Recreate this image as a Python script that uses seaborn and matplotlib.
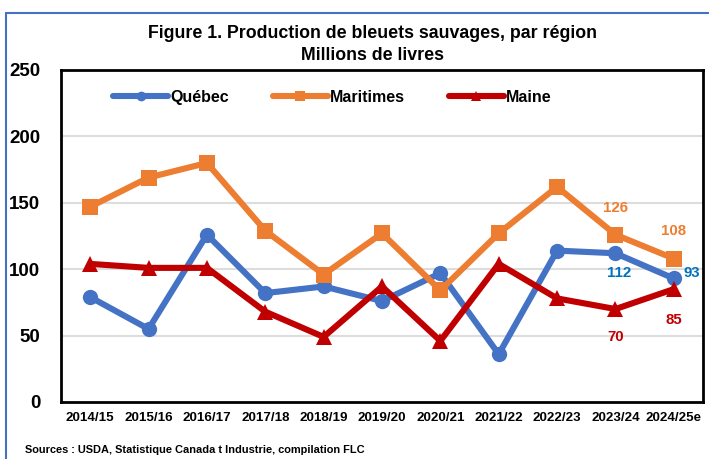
import matplotlib
matplotlib.use("Agg")
import matplotlib.pyplot as plt
import matplotlib.patches as mpatches
from matplotlib import font_manager
import seaborn as sns
import pandas as pd

seasons = ["2014/15", "2015/16", "2016/17", "2017/18", "2018/19", "2019/20",
           "2020/21", "2021/22", "2022/23", "2023/24", "2024/25e"]
quebec = [79, 55, 126, 82, 87, 76, 97, 36, 114, 112, 93]
maritimes = [147, 169, 180, 129, 96, 127, 84, 127, 162, 126, 108]
maine = [104, 101, 101, 68, 49, 87, 46, 104, 78, 70, 85]
series_names = ["Québec", "Maritimes", "Maine"]
colors = {"Québec": "#4472C4", "Maritimes": "#ED7D31", "Maine": "#C00000"}
label_colors = {"Québec": "#0070C0", "Maritimes": "#ED7D31", "Maine": "#C00000"}
markers = {"Québec": "o", "Maritimes": "s", "Maine": "^"}
yticks = [0, 50, 100, 150, 200, 250]

sns.set_theme(style="white")
names = {f.name for f in font_manager.fontManager.ttflist}
fam = ["Liberation Sans Narrow", "Liberation Sans", "DejaVu Sans"]
fam = [f for f in fam if f in names] + ["DejaVu Sans"]
plt.rcParams["font.family"] = fam
plt.rcParams["font.weight"] = "bold"
plt.rcParams["text.color"] = "black"
plt.rcParams["xtick.color"] = "black"
plt.rcParams["ytick.color"] = "black"

df = pd.DataFrame({
    "season": seasons * 3,
    "value": quebec + maritimes + maine,
    "region": sum([[n] * len(seasons) for n in series_names], []),
})

W, H = 709, 459
fig = plt.figure(figsize=(W / 100, H / 100), dpi=100)
ax = fig.add_axes([61 / W, 1 - 402 / H, (703 - 61) / W, (402 - 70) / H])

sns.lineplot(data=df, x="season", y="value", hue="region", style="region",
             hue_order=series_names, style_order=series_names,
             palette=colors, markers=markers, dashes=False, sort=False,
             linewidth=4.4, markersize=11, markeredgewidth=0, ax=ax)

ax.set_xlim(-0.5, len(seasons) - 0.5)
ax.set_ylim(0, 250)
ax.set_yticks(yticks)
ax.set_yticklabels([str(v) for v in yticks], fontsize=13.5, fontweight="bold")
ax.tick_params(axis="y", length=0, pad=15)
ax.tick_params(axis="x", length=0, pad=7, labelsize=9.6)
for t in ax.get_xticklabels():
    t.set_fontweight("bold")
ax.set_xlabel("")
ax.set_ylabel("")
for v in yticks[1:-1]:
    ax.axhline(v, color="#DDDDDD", linewidth=1.5, zorder=0)
for s in ax.spines.values():
    s.set_color("black")
    s.set_linewidth(2)

# legend
handles, labels = ax.get_legend_handles_labels()
leg = ax.legend(handles, labels, loc="center left",
                bbox_to_anchor=(113 / W, 1 - 97 / H),
                bbox_transform=fig.transFigure,
                ncol=3, frameon=False, handlelength=3.45,
                handletextpad=0.12, columnspacing=2.75, borderpad=0,
                borderaxespad=0, prop={"weight": "bold", "size": 11.5})
for h in leg.legend_handles:
    h.set_markersize(7)
    h.set_linewidth(4.4)

# data labels
def lab(name, idx, val, dx, dy):
    ax.annotate(str(val), (idx, val), xytext=(dx, dy), textcoords="offset points",
                ha="center", va="center", color=label_colors[name],
                fontsize=10.8, fontweight="bold")

lab("Maritimes", 9, maritimes[9], 0, 19)
lab("Maritimes", 10, maritimes[10], 0, 20)
lab("Québec", 9, quebec[9], 3, -14)
lab("Québec", 10, quebec[10], 13, 4)
lab("Maine", 9, maine[9], 0, -20)
lab("Maine", 10, maine[10], 0, -22)

fig.text(373 / W, 1 - 33 / H, "Figure 1. Production de bleuets sauvages, par région",
         ha="center", va="center", fontsize=12.8, fontweight="bold")
fig.text(373 / W, 1 - 56 / H, "Millions de livres",
         ha="center", va="center", fontsize=12.8, fontweight="bold")
fig.text(25 / W, 1 - 450 / H,
         "Sources : USDA, Statistique Canada t Industrie, compilation FLC",
         ha="left", va="center", fontsize=7.9, fontweight="bold")

border = mpatches.Rectangle((6 / W, -0.1), 1.2, 1 - 13 / H + 0.1,
                            transform=fig.transFigure, fill=False,
                            edgecolor="#4472C4", linewidth=1.5, clip_on=False)
fig.add_artist(border)

fig.savefig("out.png", dpi=100)
